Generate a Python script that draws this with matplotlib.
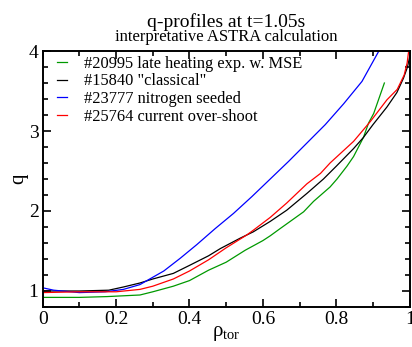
import numpy as np
import matplotlib
matplotlib.use('Agg')
import matplotlib.pyplot as plt
from matplotlib.ticker import MultipleLocator

plt.rcParams['font.family'] = ['Liberation Serif', 'DejaVu Serif']
plt.rcParams['mathtext.fontset'] = 'custom'
plt.rcParams['mathtext.rm'] = 'Liberation Serif'

# q-profiles
rho_20995 = [0, 0.1, 0.175, 0.265, 0.3, 0.356, 0.40, 0.452, 0.50, 0.552, 0.60, 0.62,
             0.647, 0.711, 0.738, 0.783, 0.802, 0.829, 0.847, 0.874, 0.888, 0.902, 0.931]
q_20995 = [0.92, 0.92, 0.93, 0.95, 0.99, 1.06, 1.13, 1.26, 1.36, 1.51, 1.63, 1.69,
           1.78, 1.99, 2.12, 2.30, 2.40, 2.56, 2.68, 2.92, 3.10, 3.22, 3.60]

rho_15840 = [0, 0.1, 0.18, 0.22, 0.265, 0.3, 0.356, 0.40, 0.452, 0.484, 0.538, 0.574,
             0.62, 0.665, 0.72, 0.765, 0.80, 0.847, 0.874, 0.90, 0.938, 0.965, 0.983,
             0.994, 1.0]
q_15840 = [1.00, 1.00, 1.01, 1.05, 1.10, 1.15, 1.22, 1.32, 1.44, 1.53, 1.66, 1.74,
           1.87, 2.01, 2.22, 2.40, 2.56, 2.78, 2.92, 3.08, 3.30, 3.48, 3.66,
           3.80, 3.93]

rho_23777 = [0, 0.03, 0.1, 0.17, 0.22, 0.265, 0.33, 0.375, 0.42, 0.47, 0.52, 0.57,
             0.62, 0.67, 0.72, 0.77, 0.82, 0.87, 0.916]
q_23777 = [1.04, 1.01, 0.98, 0.99, 1.02, 1.08, 1.25, 1.41, 1.58, 1.78, 1.97, 2.18,
           2.40, 2.62, 2.85, 3.08, 3.34, 3.62, 4.0]

rho_25764 = [0, 0.1, 0.2, 0.265, 0.3, 0.356, 0.40, 0.452, 0.50, 0.556, 0.574, 0.62,
             0.665, 0.72, 0.757, 0.783, 0.847, 0.893, 0.938, 0.966, 0.985, 0.993, 1.0]
q_25764 = [0.98, 0.99, 0.99, 1.02, 1.06, 1.15, 1.25, 1.39, 1.54, 1.70, 1.76, 1.92,
           2.10, 2.34, 2.47, 2.60, 2.87, 3.12, 3.39, 3.52, 3.70, 3.85, 4.1]

labels = ['#20995 late heating exp. w. MSE', '#15840 "classical"',
          '#23777 nitrogen seeded', '#25764 current over-shoot']
colors = ['#009900', 'black', 'blue', 'red']

xticks = [0, 0.2, 0.4, 0.6, 0.8, 1]
xticklabels = ['0', '0.2', '0.4', '0.6', '0.8', '1']
yticks = [1, 2, 3, 4]

fig = plt.figure(figsize=(4.12, 3.47), dpi=100)
ax = fig.add_axes([0.1036, 0.1153, 0.8908, 0.7377])

series = [(rho_20995, q_20995), (rho_15840, q_15840),
          (rho_23777, q_23777), (rho_25764, q_25764)]
for (r, q), lab, c in zip(series, labels, colors):
    ax.plot(r, q, color=c, lw=0.9, label=lab)

ax.set_xlim(0, 1)
ax.set_ylim(0.8, 4)
ax.set_xticks(xticks)
ax.set_xticklabels(xticklabels)
ax.set_yticks(yticks)
ax.xaxis.set_minor_locator(MultipleLocator(0.1))
ax.yaxis.set_minor_locator(MultipleLocator(0.2))
ax.tick_params(which='both', direction='in', top=True, right=True,
               labelsize=14, width=1.2, pad=3)
ax.tick_params(which='major', length=6)
ax.tick_params(which='minor', length=3.5)
for s in ax.spines.values():
    s.set_linewidth(1.4)

ax.set_xlabel('ρ$_{\\mathrm{tor}}$', fontsize=15, labelpad=-3)
ax.set_ylabel('q', fontsize=15, labelpad=0)

fig.text(0.549, 0.937, 'q-profiles at t=1.05s', ha='center', va='center', fontsize=14)
fig.text(0.549, 0.893, 'interpretative ASTRA calculation', ha='center', va='center',
         fontsize=12)

ax.legend(loc='upper left', frameon=False, fontsize=11.8, handlelength=0.6,
          handletextpad=1.0, labelspacing=0.1, borderaxespad=0,
          bbox_to_anchor=(0.022, 1.007))

fig.savefig('out.png', dpi=100)
